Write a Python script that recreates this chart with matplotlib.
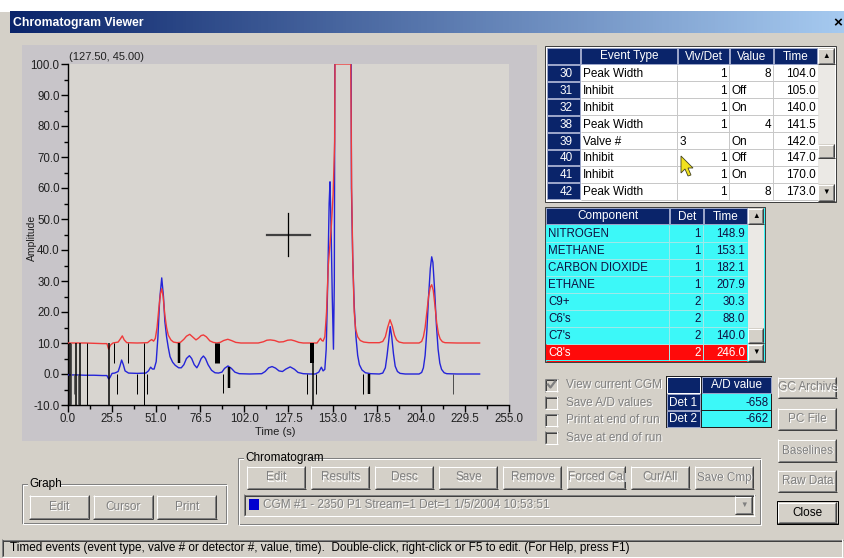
import matplotlib
matplotlib.use('Agg')
import matplotlib.pyplot as plt
import numpy as np
from matplotlib.patches import Rectangle, Polygon
from matplotlib.colors import LinearSegmentedColormap
from matplotlib.ticker import MultipleLocator, FixedLocator

plt.rcParams['font.family'] = ['Liberation Sans', 'DejaVu Sans']
plt.rcParams['axes.unicode_minus'] = False

# ---------------- data ----------------
blue_t = [0, 5, 10, 15, 20, 22.5, 23.5, 24.2, 25.5, 27, 29, 30, 31, 32, 33, 35, 40, 45, 46.5, 47.8, 48.8,
          49.8, 51, 52, 53, 54.2, 55.2, 56, 57, 58, 59, 60.5, 62, 64, 65.5, 67, 68.5, 70.2, 71.5, 73, 74.5,
          75.5, 77, 78.3, 79.5, 81, 83, 85, 87, 89, 90.5, 92.5, 94.5, 96.5, 99, 105, 112, 114, 116, 118,
          120, 122, 124, 126, 128.5, 131, 133, 136, 140, 143, 145, 146.5, 147.5, 148.5, 149.3, 150.2, 151,
          151.5, 152.2, 152.8, 153.5, 154.0, 154.4, 163.6, 163.9, 164.6, 165.5, 166.5, 167.5, 168.5, 170,
          172, 175, 180, 182, 183.5, 184.5, 185.5, 186.3, 187.2, 188.2, 189.2, 190.5, 192, 195, 203, 204.5,
          205.5, 206.5, 207.5, 208.5, 209.5, 210.3, 211, 212, 213, 214, 215, 216, 217.5, 219, 225, 238]
blue_a = [-0.3, -0.3, -0.4, -0.4, -0.5, -0.5, -1.6, -1.2, 0.2, 0.3, 0.8, 2.5, 4.5, 3.0, 1.0, 0.3, 0.2, 0.3,
          1.0, 2.2, 1.6, 1.6, 4, 12, 24, 31, 25, 17, 12, 8.5, 5.6, 3.8, 2.8, 2.0, 2.0, 3.0, 5.0, 5.9, 5.0,
          3.0, 2.0, 3.0, 5.0, 5.8, 5.0, 3.0, 1.2, 0.4, 0.3, 0.6, 1.8, 2.6, 1.8, 0.6, 0.1, 0.0, 0.1, 0.8,
          2.0, 2.4, 1.9, 1.0, 0.8, 1.6, 2.3, 1.5, 0.5, 0.1, 0.0, 0.0, 0.6, 2.2, 1.0, 1.5, 8, 30, 55, 62,
          45, 25, 8, 30, 130, 130, 60, 38, 22, 12, 6, 3, 1.3, 0.4, 0.1, 0.0, 0.3, 2, 6, 11, 15.3, 12, 6.5,
          2.5, 0.8, 0.2, 0.0, 0.0, 0.5, 2, 6, 14, 25, 34, 37.8, 36, 27, 16, 8, 3.5, 1.5, 0.4, 0.1, 0.0, 0.0]

red_t = [0, 10, 20, 22.5, 23.5, 24.5, 26, 29, 30.5, 31.4, 32.5, 34, 40, 46, 47.5, 48.4, 49.5, 50.5, 51.5,
         52.5, 53.5, 54.2, 55, 56, 57, 58, 59.5, 61, 63, 65, 67, 68.5, 70.4, 72, 74, 75.5, 77, 78.3, 80,
         82, 84, 86, 88, 90, 92.4, 94.5, 97, 100, 110, 113, 115, 117, 119.5, 122, 124.5, 127, 129, 131,
         133.5, 136, 144, 145, 146, 146.8, 147.5, 148.5, 149.5, 150.5, 151.5, 152.3, 153.3, 154.2, 154.4,
         163.5, 164, 164.7, 165.5, 166.3, 167.5, 169, 171, 174, 180, 182, 183.5, 184.8, 186.2, 187.5,
         188.8, 190, 191.5, 194, 203, 204.5, 205.5, 206.5, 207.5, 208.5, 209.5, 210.3, 211.2, 212.2,
         213.2, 214.2, 215.2, 216.5, 218, 225, 238]
red_a = [10.0, 10.0, 9.8, 9.8, 8.0, 9.3, 10.0, 10.3, 11.5, 12.3, 11.0, 10.1, 10.0, 10.1, 10.8, 11.1, 10.6,
         11.5, 15, 21, 26, 27.5, 25, 19, 15, 12.5, 11, 10.3, 10.1, 10.2, 11.2, 12.2, 12.8, 12.0, 11.0,
         11.6, 12.4, 12.6, 12.0, 10.7, 10.2, 10.0, 10.2, 10.8, 11.2, 10.8, 10.2, 10.0, 10.0, 10.4, 10.9,
         11.0, 10.8, 10.3, 10.4, 10.9, 11.0, 10.7, 10.2, 10.0, 10.0, 10.8, 11.5, 10.8, 10.6, 12, 20, 35,
         42, 48, 58, 75, 100, 100, 60, 36, 20, 14.5, 12, 10.8, 10.3, 10.1, 10.1, 10.5, 12.0, 15.0, 17.5,
         15.5, 12.5, 11.0, 10.3, 10.0, 10.0, 10.5, 12, 15, 20, 25, 28, 28.8, 27, 22, 16.5, 13, 11.3, 10.4,
         10.1, 10.0, 10.0]

# timed-event markers
ev_t = [1.0, 2.0, 3.5, 4.5, 6.0, 7.2, 10.8, 23.9, 26.6, 28.1, 34.9, 39.7, 44.1, 45.9, 64.2, 86.4, 89.8,
        93.1, 138.4, 141.3, 141.9, 143.4, 170.4, 174.0, 222.8]
ev_top = [10, 10, 0, 10, 0, 10, 10, 10, 10, 0, 10, 0, 10, 0, 10, 10, 0, 2.3, 0, 10, 3.5, 0, 0, 0, 0]
ev_bot = [-10, -10, -6.5, -10, -10, -10, -10, -10, 3.5, -6.3, 3.5, -6.3, -10, -6.3, 3.5, 3.5, -6.0, -4.6,
          -6.3, 3.5, -10, -6.6, -6.3, -6.3, -6.3]
ev_px = [1.5, 1, 1, 1.5, 1, 1.5, 1, 1.5, 1, 1, 1, 1, 1, 1, 2.5, 5, 1, 2.5, 1, 4, 1.5, 1, 1, 2.5, 1]
ev_col = ['black', '#505050', '#606060', 'black', '#606060', 'black', 'black', 'black', 'black', 'black',
          'black', 'black', 'black', 'black', 'black', 'black', 'black', 'black', 'black', 'black', 'black',
          'black', 'black', 'black', '#505050']

cursor_t, cursor_a = 127.5, 45.0
x_ticks = [0.0, 25.5, 51.0, 76.5, 102.0, 127.5, 153.0, 178.5, 204.0, 229.5, 255.0]
y_ticks = [-10.0, 0.0, 10.0, 20.0, 30.0, 40.0, 50.0, 60.0, 70.0, 80.0, 90.0, 100.0]

ev_rows = ["30", "31", "32", "38", "39", "40", "41", "42"]
ev_type = ["Peak Width", "Inhibit", "Inhibit", "Peak Width", "Valve #", "Inhibit", "Inhibit", "Peak Width"]
ev_vd = ["1", "1", "1", "1", "3", "1", "1", "1"]
ev_val = ["8", "Off", "On", "4", "On", "Off", "On", "8"]
ev_time = ["104.0", "105.0", "140.0", "141.5", "142.0", "147.0", "170.0", "173.0"]

comp_name = ["NITROGEN", "METHANE", "CARBON DIOXIDE", "ETHANE", "C9+", "C6's", "C7's", "C8's"]
comp_det = ["1", "1", "1", "1", "2", "2", "2", "2"]
comp_time = ["148.9", "153.1", "182.1", "207.9", "30.3", "88.0", "140.0", "246.0"]

ad_det = ["Det 1", "Det 2"]
ad_val = ["-658", "-662"]

checks = ["View current CGM", "Save A/D values", "Print at end of run", "Save at end of run"]
checked = [True, False, False, False]
side_buttons = ["GC Archive", "PC File", "Baselines", "Raw Data", "Close"]
cgm_buttons = ["Edit", "Results", "Desc", "Save", "Remove", "Forced Cal", "Cur/All", "Save Cmp"]
graph_buttons = ["Edit", "Cursor", "Print"]

# ---------------- figure ----------------
W, H = 845, 558
fig = plt.figure(figsize=(W / 100, H / 100), dpi=100)
bg = fig.add_axes([0, 0, 1, 1], zorder=0)
bg.set_xlim(0, W)
bg.set_ylim(H, 0)
bg.axis('off')

WIN = '#d4d0c8'
NAVY = '#0a246a'
CYAN = '#3cf8f8'
PX = 0.72


def rect(x0, y0, x1, y1, fc, ec='none', lw=0, z=1):
    bg.add_patch(Rectangle((x0, y0), x1 - x0, y1 - y0, facecolor=fc, edgecolor=ec, linewidth=lw, zorder=z))


def hl(x0, x1, y, c, w=1, z=3):
    bg.plot([x0, x1], [y, y], color=c, lw=w * PX, zorder=z, solid_capstyle='butt')


def vl(x, y0, y1, c, w=1, z=3):
    bg.plot([x, x], [y0, y1], color=c, lw=w * PX, zorder=z, solid_capstyle='butt')


def txt(x, y, s, c='black', size=8.3, ha='left', va='center', z=5, **kw):
    bg.text(x, y, s, color=c, fontsize=size, ha=ha, va=va, zorder=z, **kw)


def dtxt(x, y, s, size=8.3, ha='left'):
    txt(x + 1, y + 1, s, c='white', size=size, ha=ha)
    txt(x, y, s, c='#808080', size=size, ha=ha, z=6)


def raised(x0, y0, x1, y1):
    rect(x0, y0, x1, y1, WIN, z=2)
    hl(x0, x1 - 1, y0 + 0.5, 'white')
    vl(x0 + 0.5, y0, y1 - 1, 'white')
    hl(x0, x1, y1 - 0.5, '#404040')
    vl(x1 - 0.5, y0, y1, '#404040')
    hl(x0 + 1, x1 - 1, y1 - 1.5, '#808080')
    vl(x1 - 1.5, y0 + 1, y1 - 1, '#808080')


def sunken(x0, y0, x1, y1, fc=WIN):
    rect(x0, y0, x1, y1, fc, z=2)
    hl(x0, x1, y0 + 0.5, '#808080')
    vl(x0 + 0.5, y0, y1, '#808080')
    hl(x0 + 1, x1 - 1, y0 + 1.5, '#404040')
    vl(x0 + 1.5, y0 + 1, y1 - 1, '#404040')
    hl(x0, x1, y1 - 0.5, 'white')
    vl(x1 - 0.5, y0, y1, 'white')


def button(x0, y0, x1, y1, label, enabled=False, default=False):
    raised(x0, y0, x1, y1)
    if default:
        rect(x0 - 1, y0 - 1, x1 + 1, y1 + 1, 'none', ec='black', lw=PX, z=4)
    cx, cy = (x0 + x1) / 2, (y0 + y1) / 2
    if enabled:
        txt(cx, cy, label, ha='center', size=8.5)
    else:
        dtxt(cx, cy, label, ha='center', size=8.5)


def group(x0, y0, x1, y1, label, lw_label):
    for (dx, c) in [(1, 'white'), (0, '#808080')]:
        bg.add_patch(Rectangle((x0 + dx, y0 + dx), x1 - x0, y1 - y0, facecolor='none', edgecolor=c,
                               linewidth=PX, zorder=2 + dx * 0.1))
    rect(x0 + 6, y0 - 6, x0 + 8 + lw_label, y0 + 4, WIN, z=3)
    txt(x0 + 7, y0, label, size=8.5)


# window background
rect(0, 0, W, H, WIN, z=0)
rect(0, 0, W, 12, 'white', z=0.5)
grad = np.linspace(0, 1, 256)[None, :]
cmap = LinearSegmentedColormap.from_list('tb', [NAVY, '#a6caf0'])
bg.imshow(grad, cmap=cmap, extent=(10, W, 33.5, 12), aspect='auto', zorder=1)
bg.set_xlim(0, W)
bg.set_ylim(H, 0)
txt(13, 23, "Chromatogram Viewer", c='white', size=8.8, weight='bold')
txt(838, 23, "\u00d7", c='black', size=11, ha='center', weight='bold')

# chart panel
rect(22, 45, 537, 441, '#c8c5c9', z=1)
txt(69, 57, "(127.50, 45.00)", size=8, c='#202020')
txt(32, 238, "Amplitude", size=7.5, ha='center', rotation=90, c='#202020')
txt(275, 432, "Time (s)", size=8, ha='center', c='#202020')

# ---------------- chart ----------------
ax = fig.add_axes([68 / W, 1 - 405 / H, 441 / W, 341 / H], zorder=2)
ax.set_facecolor('#d8d5d0')
ax.set_xlim(0, 255)
ax.set_ylim(-10, 100)
for s in ['top', 'right']:
    ax.spines[s].set_visible(False)
for s in ['left', 'bottom']:
    ax.spines[s].set_color('black')
    ax.spines[s].set_linewidth(1.0)
ax.xaxis.set_major_locator(FixedLocator(x_ticks))
ax.xaxis.set_minor_locator(MultipleLocator(12.75))
ax.yaxis.set_major_locator(FixedLocator(y_ticks))
ax.yaxis.set_minor_locator(MultipleLocator(5))
ax.set_xticklabels([f"{v:.1f}" for v in x_ticks])
ax.set_yticklabels([f"{v:.1f}" for v in y_ticks])
ax.tick_params(axis='both', which='major', length=5, width=1, direction='out', labelsize=8.3,
               labelcolor='#202020', pad=1)
ax.tick_params(axis='both', which='minor', length=3, width=1, direction='out')

ax.plot(blue_t, blue_a, color='#2424d8', lw=1.0, zorder=3)
ax.plot(red_t, red_a, color='#f03a3a', lw=1.0, zorder=3.2)
for t, a0, a1, w, c in zip(ev_t, ev_top, ev_bot, ev_px, ev_col):
    ax.plot([t, t], [a0, a1], color=c, lw=w * PX, solid_capstyle='butt', zorder=4)
ax.plot([cursor_t - 12.5, cursor_t + 12.5], [cursor_a, cursor_a], color='#404040', lw=1.6, zorder=5)
ax.plot([cursor_t, cursor_t], [cursor_a - 7, cursor_a + 7], color='black', lw=0.9, zorder=5)

# ---------------- events table ----------------
rect(545, 46, 836, 202, 'white', ec='#404040', lw=PX, z=1.5)
ecols = [547, 581, 678, 730, 774, 818]
ey0 = 48
rh = 16.9
heads = ["", "Event Type", "Vlv/Det", "Value", "Time"]
for i, hname in enumerate(heads):
    rect(ecols[i], ey0, ecols[i + 1] - 1, ey0 + 16, NAVY, ec='#9aa4c8', lw=PX, z=3)
    txt((ecols[i] + ecols[i + 1]) / 2, ey0 + 8.5, hname, c='white', size=8.5, ha='center')
for r in range(8):
    y0 = 65 + r * rh
    y1 = y0 + rh
    yc = (y0 + y1) / 2 + 0.5
    rect(ecols[0], y0, ecols[1] - 1, y1 - 1, NAVY, ec='#9aa4c8', lw=PX, z=3)
    txt((ecols[0] + ecols[1]) / 2 + 2, yc, ev_rows[r], c='white', size=8.5, ha='center')
    hl(ecols[1], ecols[5], y1 - 0.5, '#c8c8c8')
    txt(ecols[1] + 2, yc, ev_type[r], size=8.5)
    if ev_type[r] == "Valve #":
        txt(ecols[2] + 2, yc, ev_vd[r], size=8.5)
    else:
        txt(ecols[3] - 3, yc, ev_vd[r], size=8.5, ha='right')
    if ev_val[r] in ("On", "Off"):
        txt(ecols[3] + 2, yc, ev_val[r], size=8.5)
    else:
        txt(ecols[4] - 3, yc, ev_val[r], size=8.5, ha='right')
    txt(ecols[5] - 2, yc, ev_time[r], size=8.5, ha='right')
for x in ecols[2:5]:
    vl(x - 0.5, 65, 200, '#c8c8c8')
# scrollbar
rect(818, 48, 835, 201, '#ebe9e5', z=2)
raised(818, 48, 835, 64)
txt(826.5, 56, "\u25b2", size=5.5, ha='center')
raised(818, 184, 835, 201)
txt(826.5, 192.5, "\u25bc", size=5.5, ha='center')
raised(818, 144, 835, 158)

# mouse pointer
pointer = [(681, 156), (681, 173), (685, 169), (688, 176), (691, 175), (688, 168), (693, 168)]
bg.add_patch(Polygon([(x, y) for x, y in pointer], closed=True, facecolor='#f2e21e', edgecolor='#404020',
                     linewidth=0.6, zorder=7))

# ---------------- component table ----------------
rect(545, 207, 765, 362, CYAN, ec='#404040', lw=PX, z=1.5)
ccols = [546, 670, 704, 748]
cheads = ["Component", "Det", "Time"]
for i, hname in enumerate(cheads):
    rect(ccols[i], 208, ccols[i + 1] - 1, 224, NAVY, ec='#9aa4c8', lw=PX, z=3)
    txt((ccols[i] + ccols[i + 1]) / 2, 216.5, hname, c='white', size=8.5, ha='center')
for r in range(8):
    y0 = 225 + r * 17
    y1 = y0 + 17
    yc = (y0 + y1) / 2 + 0.5
    last = (r == 7)
    fc = '#ff0a0a' if last else CYAN
    tc = 'white' if last else '#101040'
    rect(ccols[0], y0, ccols[3] - 1, y1 - 1, fc, z=2.5)
    hl(ccols[0], ccols[3] - 1, y1 - 0.5, '#9ee8e8' if not last else '#ff0a0a')
    txt(ccols[0] + 2, yc, comp_name[r], c=tc, size=8.3)
    txt(ccols[2] - 3, yc, comp_det[r], c=tc, size=8.3, ha='right')
    txt(ccols[3] - 3, yc, comp_time[r], c=tc, size=8.3, ha='right')
vl(669.5, 225, 361, '#9ee8e8', z=2.6)
vl(703.5, 225, 361, '#9ee8e8', z=2.6)
rect(748, 208, 764, 361, '#ebe9e5', z=2)
raised(748, 208, 764, 224)
txt(756, 216, "\u25b2", size=5.5, ha='center')
raised(748, 344, 764, 361)
txt(756, 352.5, "\u25bc", size=5.5, ha='center')
raised(748, 328, 764, 343)

# ---------------- checkboxes ----------------
for i, (lab, ch) in enumerate(zip(checks, checked)):
    yc = 385 + i * 17.6
    sunken(545, yc - 6.5, 558, yc + 6.5)
    if ch:
        bg.plot([548, 550.5, 555], [yc - 0.5, yc + 2.5, yc - 3.5], color='#808080', lw=1.6, zorder=4)
    dtxt(566, yc, lab, size=8.5)

# ---------------- A/D table ----------------
rect(666, 376, 772, 428, '#202020', z=1.5)
rect(667, 377, 700, 393, NAVY, ec='white', lw=PX, z=3)
rect(702, 377, 771, 393, NAVY, ec='#9aa4c8', lw=PX, z=3)
txt(736.5, 385.5, "A/D value", c='white', size=8.5, ha='center')
for i in range(2):
    y0 = 394 + i * 17
    rect(667, y0, 700, y0 + 16, NAVY, ec='#9aa4c8', lw=PX, z=3)
    txt(683.5, y0 + 8.5, ad_det[i], c='white', size=8.5, ha='center')
    rect(702, y0, 771, y0 + 16, CYAN, z=3)
    txt(769, y0 + 8.5, ad_val[i], c='#101040', size=8.3, ha='right')

# ---------------- right buttons ----------------
side_y = [(377, 398), (408, 430), (439, 462), (470, 492), (502, 523)]
for lab, (y0, y1) in zip(side_buttons, side_y):
    if lab == "Close":
        button(778, y0, 837, y1, lab, enabled=True, default=True)
    else:
        button(778, y0, 837, y1, lab)

# ---------------- chromatogram group ----------------
group(238, 458, 760, 524, "Chromatogram", 64)
for i, lab in enumerate(cgm_buttons):
    cx = 276.5 + 64 * i
    button(cx - 29.5, 466, cx + 29.5, 489, lab)
sunken(244, 494, 755, 516)
rect(249, 499, 259, 510, '#0000d0', z=4)
dtxt(263, 505, "CGM #1 - 2350 P1 Stream=1 Det=1 1/5/2004 10:53:51", size=8.5)
raised(735, 496, 753, 514)
txt(744, 505, "\u25bc", size=5.5, ha='center', c='#808080')

# ---------------- graph group ----------------
group(22, 484, 226, 523, "Graph", 30)
for i, lab in enumerate(graph_buttons):
    cx = 59.5 + 63.7 * i
    button(cx - 30, 495, cx + 30, 519, lab)

# ---------------- status bar ----------------
sunken(2, 539, 843, 557)
txt(10, 548.5, "Timed events (event type, valve # or detector #, value, time).  Double-click, right-click or F5 "
              "to edit. (For Help, press F1)", size=8.5)

fig.savefig('out.png', dpi=100)
